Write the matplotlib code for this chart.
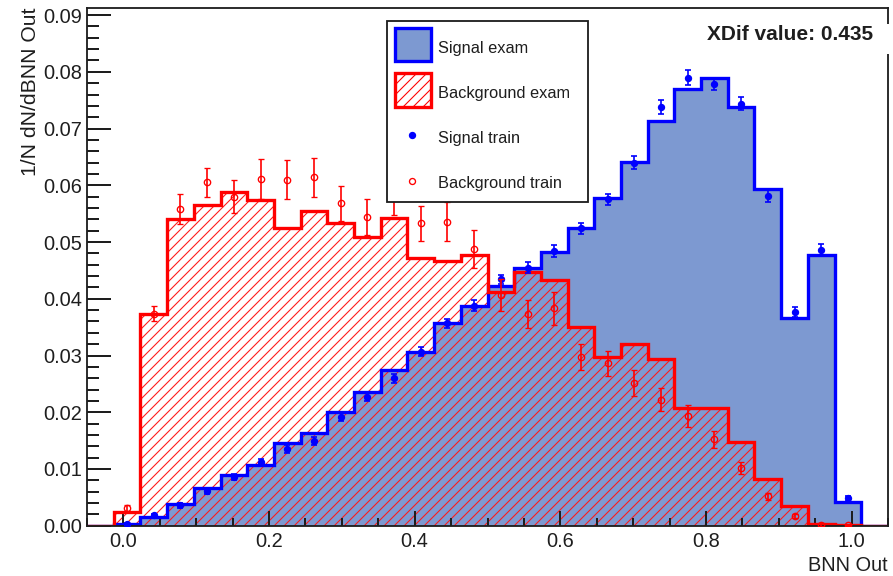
import numpy as np
import matplotlib
matplotlib.use("Agg")
import matplotlib.pyplot as plt
from matplotlib.patches import Rectangle
from matplotlib.lines import Line2D
from matplotlib.ticker import MultipleLocator, FormatStrFormatter

# ---- data -------------------------------------------------------------
# 30 bins over the BNN output range
bin_edges = np.linspace(-0.05, 1.05, 31)

signal_exam = [0.0, 0.0003, 0.0016, 0.0039, 0.0067, 0.0089, 0.0107, 0.0145,
               0.0163, 0.0200, 0.0236, 0.0274, 0.0306, 0.0358, 0.0387, 0.0422,
               0.0455, 0.0483, 0.0524, 0.0577, 0.0641, 0.0713, 0.0769, 0.0789,
               0.0738, 0.0593, 0.0366, 0.0478, 0.0042, 0.0]

background_exam = [0.0, 0.0025, 0.0374, 0.0540, 0.0565, 0.0589, 0.0574, 0.0524,
                   0.0555, 0.0534, 0.0509, 0.0542, 0.0472, 0.0467, 0.0478, 0.0412,
                   0.0448, 0.0433, 0.0351, 0.0298, 0.0320, 0.0294, 0.0208, 0.0208,
                   0.0147, 0.0082, 0.0035, 0.0003, 0.0002, 0.0]

# training samples: bins 1..28
signal_train = [0.0003, 0.0018, 0.0036, 0.0061, 0.0086, 0.0112, 0.0136, 0.0150,
                0.0192, 0.0227, 0.0260, 0.0307, 0.0357, 0.0388, 0.0434, 0.0455,
                0.0484, 0.0524, 0.0575, 0.0640, 0.0738, 0.0790, 0.0778, 0.0744,
                0.0581, 0.0376, 0.0486, 0.0048]
signal_train_err = [0.0002, 0.0003, 0.0004, 0.0005, 0.0006, 0.0006, 0.0007, 0.0007,
                    0.0008, 0.0008, 0.0008, 0.0008, 0.0008, 0.0009, 0.0008, 0.0010,
                    0.0010, 0.0010, 0.0010, 0.0011, 0.0012, 0.0013, 0.0010, 0.0012,
                    0.0010, 0.0009, 0.0010, 0.0004]

background_train = [0.0031, 0.0374, 0.0558, 0.0605, 0.0580, 0.0611, 0.0610, 0.0614,
                    0.0568, 0.0544, 0.0580, 0.0533, 0.0536, 0.0488, 0.0407, 0.0373,
                    0.0383, 0.0298, 0.0286, 0.0251, 0.0222, 0.0193, 0.0152, 0.0102,
                    0.0052, 0.0017, 0.0002, 0.0001]
background_train_err = [0.0005, 0.0014, 0.0026, 0.0026, 0.0029, 0.0035, 0.0035, 0.0035,
                        0.0031, 0.0032, 0.0033, 0.0031, 0.0034, 0.0033, 0.0028, 0.0024,
                        0.0029, 0.0023, 0.0022, 0.0023, 0.0020, 0.0019, 0.0015, 0.0010,
                        0.0006, 0.0004, 0.0002, 0.0001]

xdif_value = 0.435

legend_labels = ["Signal exam", "Background exam", "Signal train", "Background train"]

# ---- style ------------------------------------------------------------
DPI = 120
W, H = 893, 576
SIG_FILL = '#7d99d1'
INK = '#1e1e1e'
HATCH = '////'

plt.rcParams['font.family'] = ['Liberation Sans', 'DejaVu Sans']
plt.rcParams['hatch.linewidth'] = 0.65


def fx(px):
    return px / W


def fy(py):
    return 1 - py / H


fig = plt.figure(figsize=(W / DPI, H / DPI), dpi=DPI)
fig.patch.set_facecolor('white')
ax = fig.add_axes([fx(87), fy(525.7), (888 - 87) / W, (525.7 - 8.3) / H])

centers = 0.5 * (bin_edges[:-1] + bin_edges[1:])
train_x = centers[1:29]

# histograms of the exam samples
ax.stairs(signal_exam, bin_edges, fill=True, facecolor=SIG_FILL,
          edgecolor='none', linewidth=0, zorder=1)
ax.stairs(background_exam, bin_edges, fill=True, facecolor='none',
          edgecolor='#ff1a1a', hatch=HATCH, linewidth=0, zorder=1.2)
ax.stairs(signal_exam, bin_edges, color='blue', linewidth=2.0, zorder=1.6)
ax.stairs(background_exam, bin_edges, color='red', linewidth=2.0, zorder=1.8)

# training samples with error bars
ax.errorbar(train_x, signal_train, yerr=signal_train_err, fmt='o', ms=3.4,
            mfc='blue', mec='blue', ecolor='blue', elinewidth=1.0,
            capsize=2.0, capthick=1.0, zorder=3)
ax.errorbar(train_x, background_train, yerr=background_train_err, fmt='o',
            ms=3.8, mfc='none', mec='red', mew=0.8, ecolor='red',
            elinewidth=1.0, capsize=2.0, capthick=1.0, zorder=3.1)

# axes
ax.set_xlim(-0.05, 1.05)
ax.set_ylim(0, 0.0912)
ax.xaxis.set_major_locator(MultipleLocator(0.2))
ax.xaxis.set_minor_locator(MultipleLocator(0.05))
ax.yaxis.set_major_locator(MultipleLocator(0.01))
ax.yaxis.set_minor_locator(MultipleLocator(0.002))
ax.xaxis.set_major_formatter(FormatStrFormatter('%.1f'))
ax.yaxis.set_major_formatter(FormatStrFormatter('%.2f'))
ax.tick_params(axis='both', which='both', direction='in', top=False,
               right=False, color=INK, width=1.2, labelcolor=INK)
ax.tick_params(axis='y', which='major', length=14.4, pad=3, labelsize=12)
ax.tick_params(axis='y', which='minor', length=7.2)
ax.tick_params(axis='x', which='major', length=9, pad=4, labelsize=12)
ax.tick_params(axis='x', which='minor', length=4.8)
for sp in ax.spines.values():
    sp.set_linewidth(1.1)
    sp.set_color(INK)

# axis titles
fig.text(fx(31), fy(8), "1/N dN/dBNN Out", rotation=90, ha='center', va='top',
         fontsize=12.7, color=INK)
fig.text(fx(888), fy(571), "BNN Out", ha='right', va='baseline',
         fontsize=12, color=INK)

# XDif label
fig.add_artist(Rectangle((fx(700), fy(54)), (893 - 700) / W, 30 / H,
                         transform=fig.transFigure, facecolor='white',
                         edgecolor='none', zorder=4))
fig.text(fx(873), fy(40), f"XDif value: {xdif_value:.3f}", ha='right',
         va='baseline', fontsize=12.5, fontweight='bold', color=INK, zorder=5)

# legend box
fig.add_artist(Rectangle((fx(387.3), fy(201.7)), (588.3 - 387.3) / W,
                         (201.7 - 20.7) / H, transform=fig.transFigure,
                         facecolor='white', edgecolor=INK, linewidth=1.1,
                         zorder=5))
fig.add_artist(Rectangle((fx(395), fy(61)), 36 / W, 33 / H,
                         transform=fig.transFigure, facecolor=SIG_FILL,
                         edgecolor='blue', linewidth=2.0, zorder=6))
fig.add_artist(Rectangle((fx(395), fy(106.5)), 36 / W, 33.5 / H,
                         transform=fig.transFigure, facecolor='white',
                         edgecolor='red', hatch=HATCH, linewidth=2.0, zorder=6))
fig.add_artist(Line2D([fx(412.3)], [fy(135)], marker='o', ms=3.4, color='blue',
                      linestyle='none', transform=fig.transFigure, zorder=6))
fig.add_artist(Line2D([fx(412.3)], [fy(180.5)], marker='o', ms=3.6, mfc='none',
                      mec='red', mew=0.8, linestyle='none',
                      transform=fig.transFigure, zorder=6))
for label, base in zip(legend_labels, [52.7, 98.3, 142.7, 188.3]):
    fig.text(fx(438), fy(base), label, ha='left', va='baseline', fontsize=9.8,
             color=INK, zorder=7)

fig.savefig("out.png", dpi=DPI, facecolor='white')
